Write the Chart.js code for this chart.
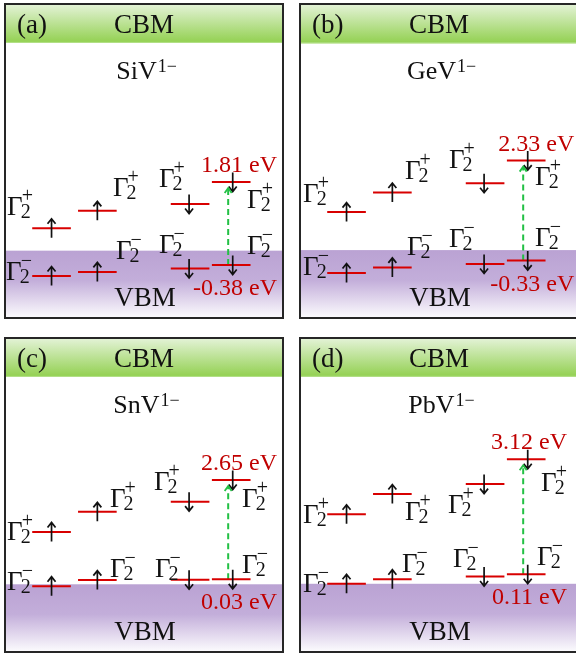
<!DOCTYPE html>
<html>
<head>
<meta charset="utf-8">
<script src="https://cdn.jsdelivr.net/npm/chart.js@4.4.1/dist/chart.umd.min.js"></script>
<style>
  body { margin: 0; background: #fff; width: 576px; height: 656px; overflow: hidden; position: relative; }
  .panel { position: absolute; width: 276px; height: 312px; border: 2px solid #262626; }
  .panel canvas { display: block; }
</style>
</head>
<body>
<div class="panel" style="left:4px;top:3px"><canvas id="panelA" width="276" height="312"></canvas></div>
<div class="panel" style="left:299px;top:3px"><canvas id="panelB" width="276" height="312"></canvas></div>
<div class="panel" style="left:4px;top:337px"><canvas id="panelC" width="276" height="312"></canvas></div>
<div class="panel" style="left:299px;top:337px"><canvas id="panelD" width="276" height="312"></canvas></div>
<script>
// Niveaux d'énergie (eV, par rapport au VBM)
const tags = ['(a)', '(b)', '(c)', '(d)'];
const defects = ['SiV', 'GeV', 'SnV', 'PbV'];
const charge = '1\u2212';
const slots = [16.5, 33.1, 66.7, 81.6];      // 4 colonnes : up, up, down, down
const spinDir = [-1, -1, 1, 1];              // -1 = spin up, 1 = spin down

const upperSiV = [0.59, 1.05, 1.23, 1.81];
const lowerSiV = [-0.67, -0.56, -0.47, -0.38];
const upperGeV = [0.96, 1.48, 1.73, 2.33];
const lowerGeV = [-0.66, -0.51, -0.42, -0.33];
const upperSnV = [1.28, 1.81, 2.08, 2.65];
const lowerSnV = [-0.15, 0.01, 0.02, 0.03];
const upperPbV = [1.68, 2.21, 2.47, 3.12];
const lowerPbV = [-0.14, -0.02, 0.05, 0.11];

const upperLevels = [upperSiV, upperGeV, upperSnV, upperPbV];
const lowerLevels = [lowerSiV, lowerGeV, lowerSnV, lowerPbV];

const cbmEdge = [5.48, 5.45, 5.37, 5.28];
const vbmEdge = [0, -0.05, -0.10, -0.14];
const yMin = [-1.75, -1.83, -1.86, -1.90];
const yMax = [6.48, 6.47, 6.37, 6.27];

// placement des étiquettes Γ (px, par rapport au centre du niveau)
const gammaUpperPos = [
  [[-44.5, -13], [15.6, -15], [-31.1, -17], [15.8, 26]],
  [[-43.5, -10], [12.6, -14], [-36.1, -15], [8.8, 24]],
  [[-44.5, 8], [12.6, -5], [-36.1, -12], [10.8, 27]],
  [[-43.5, 9], [12.6, 26], [-37.1, 29], [14.8, 32]]
];
const gammaLowerPos = [
  [[-45.5, 4], [18.6, -13], [-31.1, -15], [15.8, -11]],
  [[-43.5, 2], [14.6, -12], [-36.1, -17], [8.8, -15]],
  [[-44.5, 4], [12.6, -3], [-35.1, -3], [10.8, -6]],
  [[-43.5, 8], [9.6, -7], [-32.1, -10], [10.8, -9]]
];
const eVLabelRight = [45.8, 48, 45.8, 40.8];

const SERIF = '"Liberation Serif", "DejaVu Serif", serif';
const colors = {
  level: '#d80000',
  value: '#c00000',
  transition: '#22c044',
  ink: '#111111'
};

function drawGamma(ctx, x, y, sign) {
  ctx.fillStyle = colors.ink;
  ctx.textAlign = 'left';
  ctx.textBaseline = 'alphabetic';
  ctx.font = '27px ' + SERIF;
  ctx.fillText('\u0393', x, y);
  const w = ctx.measureText('\u0393').width;
  ctx.font = '20px ' + SERIF;
  ctx.fillText('2', x + w - 2, y + 3);
  ctx.fillText(sign, x + w - 1, y - 13);
}

function drawSpin(ctx, x, y, dir) {
  const h = 9.5;
  const tip = y + dir * h;
  ctx.strokeStyle = colors.ink;
  ctx.lineWidth = 1.7;
  ctx.beginPath();
  ctx.moveTo(x, y - dir * h);
  ctx.lineTo(x, tip);
  ctx.moveTo(x - 4, tip - dir * 5);
  ctx.lineTo(x, tip);
  ctx.lineTo(x + 4, tip - dir * 5);
  ctx.stroke();
}

const diagramPlugin = {
  id: 'diagram',
  beforeDatasetsDraw(chart, args, opts) {
    const { ctx, chartArea: a, scales: { y } } = chart;
    const p = opts.panel;
    ctx.save();
    const cb = y.getPixelForValue(cbmEdge[p]);
    let g = ctx.createLinearGradient(0, a.top, 0, cb);
    g.addColorStop(0, '#e2f2d4');
    g.addColorStop(1, '#92d050');
    ctx.fillStyle = g;
    ctx.fillRect(a.left, a.top, a.width, cb - a.top);
    ctx.fillStyle = '#b4e08a';
    ctx.fillRect(a.left, cb - 1, a.width, 1);

    const vb = y.getPixelForValue(vbmEdge[p]);
    g = ctx.createLinearGradient(0, vb, 0, a.bottom);
    g.addColorStop(0, '#baa2d3');
    g.addColorStop(0.45, '#c3aeda');
    g.addColorStop(1, '#fbfafd');
    ctx.fillStyle = g;
    ctx.fillRect(a.left, vb, a.width, a.bottom - vb);
    ctx.restore();
  },
  afterDatasetsDraw(chart, args, opts) {
    const { ctx, chartArea: a, scales: { x, y } } = chart;
    const p = opts.panel;
    const upper = upperLevels[p];
    const lower = lowerLevels[p];
    const cx = a.left + a.width / 2;
    ctx.save();

    // bandes
    ctx.fillStyle = colors.ink;
    ctx.textBaseline = 'alphabetic';
    ctx.font = '27px ' + SERIF;
    ctx.textAlign = 'left';
    ctx.fillText(tags[p], a.left + 11, a.top + 28);
    ctx.textAlign = 'center';
    ctx.fillText('CBM', cx, a.top + 28);
    ctx.fillText('VBM', cx + 1, a.bottom - 11);

    // titre
    ctx.font = '26px ' + SERIF;
    const wMain = ctx.measureText(defects[p]).width;
    ctx.font = '18px ' + SERIF;
    const wSup = ctx.measureText(charge).width;
    const left = cx - (wMain + wSup) / 2 + 2;
    ctx.textAlign = 'left';
    ctx.font = '26px ' + SERIF;
    ctx.fillText(defects[p], left, a.top + 74);
    ctx.font = '18px ' + SERIF;
    ctx.fillText(charge, left + wMain + 1, a.top + 67);

    // spins et étiquettes
    slots.forEach((s, i) => {
      const px = x.getPixelForValue(s);
      const ax = px + (i === 3 ? 1.5 : i === 2 ? -1 : 0);
      const yu = y.getPixelForValue(upper[i]);
      const yl = y.getPixelForValue(lower[i]);
      drawSpin(ctx, ax, yu, spinDir[i]);
      drawSpin(ctx, ax, yl, spinDir[i]);
      const pu = gammaUpperPos[p][i];
      const pl = gammaLowerPos[p][i];
      drawGamma(ctx, px + pu[0], yu + pu[1], '+');
      drawGamma(ctx, px + pl[0], yl + pl[1], '\u2212');
    });

    // tête de la flèche de transition
    const tx = x.getPixelForValue(slots[3] - 1.1);
    const ty = y.getPixelForValue(upper[3]) + 6;
    ctx.strokeStyle = colors.transition;
    ctx.lineWidth = 1.8;
    ctx.beginPath();
    ctx.moveTo(tx - 3.5, ty + 5);
    ctx.lineTo(tx, ty);
    ctx.lineTo(tx + 3.5, ty + 5);
    ctx.stroke();

    // valeurs en eV
    const vx = x.getPixelForValue(slots[3]) + eVLabelRight[p];
    ctx.fillStyle = colors.value;
    ctx.font = '24px ' + SERIF;
    ctx.textAlign = 'right';
    ctx.fillText(upper[3].toFixed(2) + ' eV', vx, y.getPixelForValue(upper[3]) - 10);
    ctx.fillText(lower[3].toFixed(2) + ' eV', vx, y.getPixelForValue(lower[3]) + 30);
    ctx.restore();
  }
};

const halfWidth = 7;

function levelDataset(s, e) {
  return {
    data: [{ x: s - halfWidth, y: e }, { x: s + halfWidth, y: e }],
    borderColor: colors.level,
    borderWidth: 2,
    pointRadius: 0
  };
}

function initPanel(canvasId, p) {
  const upper = upperLevels[p];
  const lower = lowerLevels[p];
  const datasets = [];
  slots.forEach((s, i) => {
    datasets.push(levelDataset(s, upper[i]));
    datasets.push(levelDataset(s, lower[i]));
  });
  const tx = slots[3] - 1.1;
  datasets.push({
    data: [{ x: tx, y: lower[3] }, { x: tx, y: upper[3] - 0.16 }],
    borderColor: colors.transition,
    borderWidth: 2,
    borderDash: [6, 4],
    pointRadius: 0
  });

  return new Chart(document.getElementById(canvasId), {
    type: 'line',
    data: { datasets: datasets },
    plugins: [diagramPlugin],
    options: {
      responsive: false,
      animation: false,
      devicePixelRatio: 1,
      layout: { padding: 0 },
      plugins: {
        legend: { display: false },
        tooltip: { enabled: false },
        diagram: { panel: p }
      },
      scales: {
        x: { type: 'linear', min: 0, max: 100, display: false },
        y: { type: 'linear', min: yMin[p], max: yMax[p], display: false }
      }
    }
  });
}

['panelA', 'panelB', 'panelC', 'panelD'].forEach((id, p) => initPanel(id, p));
</script>
</body>
</html>
